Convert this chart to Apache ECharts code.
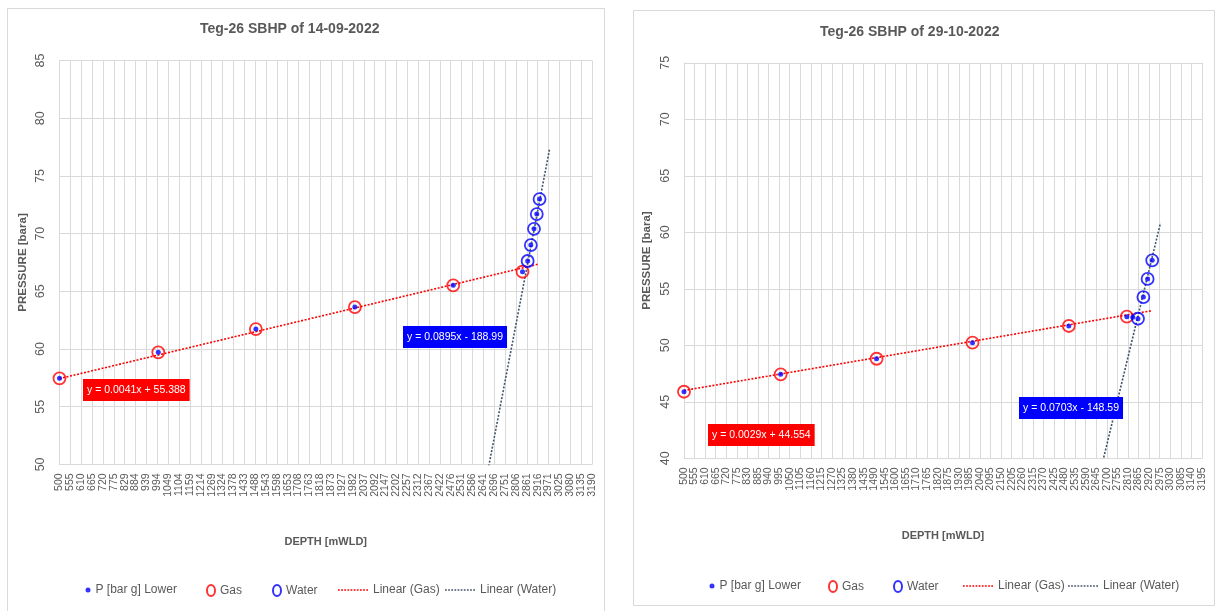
<!DOCTYPE html>
<html>
<head>
<meta charset="utf-8">
<script src="https://cdn.jsdelivr.net/npm/echarts@6/dist/echarts.min.js"></script>
<style>
  html, body { margin: 0; padding: 0; background: #ffffff; }
  #chart { width: 1218px; height: 611px; }
</style>
</head>
<body>
<div id="chart"></div>
<script>
// ---- Survey of 14-09-2022 ----
const depthGas1 = [500, 999, 1492, 1992, 2489, 2839];
const pressGas1 = [57.46, 59.71, 61.73, 63.64, 65.52, 66.70];
const depthWater1 = [2865, 2881, 2897, 2911, 2925];
const pressWater1 = [67.63, 69.01, 70.42, 71.70, 73.00];
const depthExtra1 = [];
const pressExtra1 = [];
const fitGas1 = [0.0041, 55.388];      // slope, intercept
const fitWater1 = [0.0895, -188.99];
const fitGasSpan1 = [500, 2923];       // depth range of the trend line
const fitWaterSpan1 = [2600, 2975];
const pressAxis1 = [50, 85, 5];        // min, max, step
const depthTicks1 = ['500', '555', '610', '665', '720', '775', '829', '884', '939', '994',
  '1049', '1104', '1159', '1214', '1269', '1324', '1378', '1433', '1488', '1543',
  '1598', '1653', '1708', '1763', '1818', '1873', '1927', '1982', '2037', '2092',
  '2147', '2202', '2257', '2312', '2367', '2422', '2476', '2531', '2586', '2641',
  '2696', '2751', '2806', '2861', '2916', '2971', '3025', '3080', '3135', '3190'];

// ---- Survey of 29-10-2022 ----
const depthGas2 = [500, 1003, 1502, 2001, 2502, 2804];
const pressGas2 = [45.89, 47.43, 48.81, 50.23, 51.71, 52.53];
const depthWater2 = [2862, 2890, 2912, 2936];
const pressWater2 = [52.35, 54.27, 55.87, 57.52];
const depthExtra2 = [2835];
const pressExtra2 = [52.48];
const fitGas2 = [0.0029, 44.554];
const fitWater2 = [0.0703, -148.59];
const fitGasSpan2 = [500, 2930];
const fitWaterSpan2 = [2600, 2979];
const pressAxis2 = [40, 75, 5];
const depthTicks2 = ['500', '555', '610', '665', '720', '775', '830', '885', '940', '995',
  '1050', '1105', '1160', '1215', '1270', '1325', '1380', '1435', '1490', '1545',
  '1600', '1655', '1710', '1765', '1820', '1875', '1930', '1985', '2040', '2095',
  '2150', '2205', '2260', '2315', '2370', '2425', '2480', '2535', '2590', '2645',
  '2700', '2755', '2810', '2865', '2920', '2975', '3030', '3085', '3140', '3195'];

const titles = ['Teg-26 SBHP of 14-09-2022', 'Teg-26 SBHP of 29-10-2022'];
const seriesNames = ['P [bar g] Lower', 'Gas', 'Water', 'Linear (Gas)', 'Linear (Water)'];

const SANS = '"Liberation Sans", "DejaVu Sans", sans-serif';
const GRID_COLOR = '#D9D9D9';
const TEXT_COLOR = '#595959';
const RED = '#FF0000';
const BLUE = '#0000FF';
const SLATE = '#44546A';

const panels = [
  {
    title: titles[0], gas: [depthGas1, pressGas1], water: [depthWater1, pressWater1],
    extra: [depthExtra1, pressExtra1], fitGas: fitGas1, fitWater: fitWater1,
    spanGas: fitGasSpan1, spanWater: fitWaterSpan1, yAxis: pressAxis1, ticks: depthTicks1,
    grid: { left: 59.5, top: 60.6, width: 532.5, height: 403.8 },
    titlePos: { left: 200, top: 22 },
    legendTop: 584,
    legendLeft: [85.5, 206, 272, 338, 445],
    gasBox: { left: 83, top: 379 }, waterBox: { left: 403, top: 326 },
    frame: { x: 7.5, y: 8.5, width: 597, height: 612 }
  },
  {
    title: titles[1], gas: [depthGas2, pressGas2], water: [depthWater2, pressWater2],
    extra: [depthExtra2, pressExtra2], fitGas: fitGas2, fitWater: fitWater2,
    spanGas: fitGasSpan2, spanWater: fitWaterSpan2, yAxis: pressAxis2, ticks: depthTicks2,
    grid: { left: 684, top: 62.8, width: 518, height: 395.5 },
    titlePos: { left: 820, top: 25 },
    legendTop: 580,
    legendLeft: [709.5, 828, 893, 963, 1068],
    gasBox: { left: 708, top: 424 }, waterBox: { left: 1019, top: 397 },
    frame: { x: 633.5, y: 10.5, width: 581, height: 595 }
  }
];

function points(xs, ys) { return xs.map((x, k) => [x, ys[k]]); }
function fitLine(fit, span) { return span.map(x => [x, fit[0] * x + fit[1]]); }
function equation(fit) {
  const b = fit[1];
  return 'y = ' + fit[0] + 'x ' + (b < 0 ? '- ' : '+ ') + Math.abs(b);
}

// legend glyphs: a tall open "O" and a dotted stroke
const ellipse = 'path://M4,0 C6.2,0 8,2.5 8,5.5 C8,8.5 6.2,11 4,11 C1.8,11 0,8.5 0,5.5 C0,2.5 1.8,0 4,0 Z';
let dots = '';
for (let k = 0; k < 30; k += 3.2) dots += 'M' + k + ',0h1.8v1.6h-1.8z';
const dottedIcon = 'path://' + dots;

const option = {
  animation: false,
  backgroundColor: '#ffffff',
  title: [], grid: [], xAxis: [], yAxis: [], series: [], legend: [], graphic: []
};

panels.forEach((p, i) => {
  option.title.push({
    text: p.title, left: p.titlePos.left, top: p.titlePos.top, padding: 0,
    textStyle: { fontFamily: SANS, fontSize: 14, fontWeight: 'bold', color: TEXT_COLOR }
  });
  option.grid.push(Object.assign({ containLabel: false }, p.grid));

  // value axis that positions the marks
  option.xAxis.push({
    gridIndex: i, type: 'value', show: false,
    min: Number(p.ticks[0]), max: Number(p.ticks[p.ticks.length - 1])
  });
  // tick labels and vertical gridlines
  option.xAxis.push({
    gridIndex: i, type: 'category', data: p.ticks, boundaryGap: false, position: 'bottom',
    name: 'DEPTH [mWLD]', nameLocation: 'middle', nameGap: 72,
    nameTextStyle: { fontFamily: SANS, fontSize: 11, fontWeight: 'bold', color: TEXT_COLOR },
    axisLine: { onZero: false, lineStyle: { color: GRID_COLOR, width: 1 } },
    axisTick: { show: false },
    axisLabel: { interval: 0, rotate: 90, margin: 9, fontFamily: SANS, fontSize: 10.5, color: TEXT_COLOR },
    splitLine: { show: true, interval: 0, lineStyle: { color: GRID_COLOR, width: 1 } }
  });
  option.yAxis.push({
    gridIndex: i, type: 'value', min: p.yAxis[0], max: p.yAxis[1], interval: p.yAxis[2],
    name: 'PRESSURE [bara]', nameLocation: 'middle', nameGap: 31,
    nameTextStyle: { fontFamily: SANS, fontSize: 11.5, fontWeight: 'bold', color: TEXT_COLOR },
    axisLine: { show: true, onZero: false, lineStyle: { color: GRID_COLOR, width: 1 } },
    axisTick: { show: false },
    axisLabel: { rotate: 90, margin: 12, fontFamily: SANS, fontSize: 12.5, color: TEXT_COLOR },
    splitLine: { show: true, lineStyle: { color: GRID_COLOR, width: 1 } }
  });

  const xi = i * 2, yi = i;
  const allPts = points(p.gas[0], p.gas[1])
    .concat(points(p.extra[0], p.extra[1]))
    .concat(points(p.water[0], p.water[1]));

  option.series.push({
    name: seriesNames[3], type: 'line', xAxisIndex: xi, yAxisIndex: yi,
    data: fitLine(p.fitGas, p.spanGas), symbol: 'none', clip: true, z: 2,
    lineStyle: { color: RED, width: 1.6, type: [2, 1.6] }, itemStyle: { color: RED }
  });
  option.series.push({
    name: seriesNames[4], type: 'line', xAxisIndex: xi, yAxisIndex: yi,
    data: fitLine(p.fitWater, p.spanWater), symbol: 'none', clip: true, z: 2,
    lineStyle: { color: SLATE, width: 1.6, type: [2, 1.6] }, itemStyle: { color: SLATE }
  });
  option.series.push({
    name: seriesNames[1], type: 'scatter', xAxisIndex: xi, yAxisIndex: yi,
    data: points(p.gas[0], p.gas[1]), symbol: 'circle', symbolSize: 12, z: 3,
    itemStyle: { color: 'rgba(255,255,255,0)', borderColor: RED, borderWidth: 1.8 }
  });
  option.series.push({
    name: seriesNames[2], type: 'scatter', xAxisIndex: xi, yAxisIndex: yi,
    data: points(p.water[0], p.water[1]), symbol: 'circle', symbolSize: 12, z: 3,
    itemStyle: { color: 'rgba(255,255,255,0)', borderColor: BLUE, borderWidth: 1.8 }
  });
  option.series.push({
    name: seriesNames[0], type: 'scatter', xAxisIndex: xi, yAxisIndex: yi,
    data: allPts, symbol: 'circle', symbolSize: 5, z: 4,
    itemStyle: { color: BLUE }
  });

  // legend, one entry per component so each item sits where it belongs
  const items = [
    { name: seriesNames[0], icon: 'circle' },
    { name: seriesNames[1], icon: ellipse },
    { name: seriesNames[2], icon: ellipse },
    { name: seriesNames[3], icon: dottedIcon, itemStyle: { color: RED, borderWidth: 0 } },
    { name: seriesNames[4], icon: dottedIcon, itemStyle: { color: SLATE, borderWidth: 0 } }
  ];
  const sizes = [[5, 5], [8, 11], [8, 11], [30, 1.6], [30, 1.6]];
  items.forEach((item, k) => {
    option.legend.push({
      data: [item], left: p.legendLeft[k], top: p.legendTop, padding: 0,
      itemWidth: sizes[k][0], itemHeight: sizes[k][1], selectedMode: false,
      textStyle: { fontFamily: SANS, fontSize: 12, color: TEXT_COLOR }
    });
  });

  option.graphic.push({
    type: 'rect', silent: true, z: -10,
    shape: p.frame, style: { fill: 'none', stroke: GRID_COLOR, lineWidth: 1 }
  });
  option.graphic.push({
    type: 'text', left: p.gasBox.left, top: p.gasBox.top, z: 10,
    style: { text: equation(p.fitGas), fill: '#ffffff', font: '10.5px ' + SANS,
      backgroundColor: RED, padding: [6, 4, 5, 4] }
  });
  option.graphic.push({
    type: 'text', left: p.waterBox.left, top: p.waterBox.top, z: 10,
    style: { text: equation(p.fitWater), fill: '#ffffff', font: '10.5px ' + SANS,
      backgroundColor: BLUE, padding: [6, 4, 5, 4] }
  });
});

const chart = echarts.init(document.getElementById('chart'), null, { renderer: 'canvas' });
chart.setOption(option);
</script>
</body>
</html>
